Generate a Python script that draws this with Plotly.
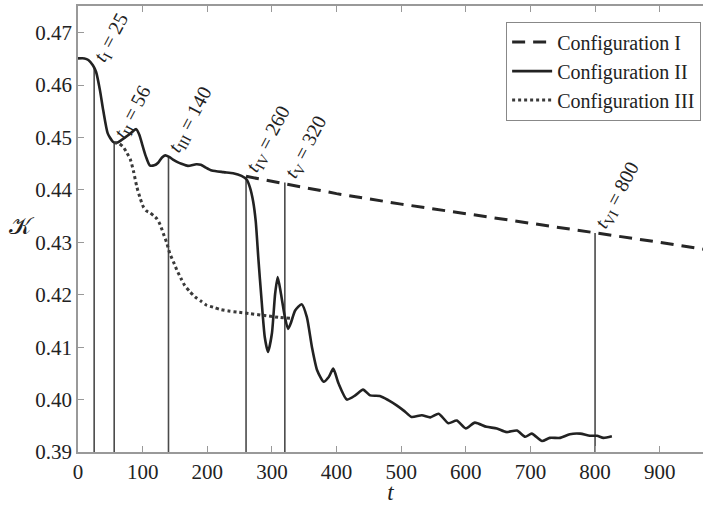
import plotly.graph_objects as go

# ---- data ----
t_conf2 = [0, 10, 16, 23, 28, 34, 39, 46, 54, 60, 67, 77, 84, 90, 95, 100, 105, 111, 118, 124,
           130, 135, 141, 147, 154, 160, 170, 183, 190, 197, 207, 225, 240, 253, 261, 266, 271,
           275, 279, 284, 289, 294, 300, 305, 309, 314, 320, 325, 329, 336, 346, 354, 362, 370,
           380, 388, 395, 403, 416, 429, 441, 452, 467, 480, 493, 505, 516, 532, 545, 558, 573,
           586, 600, 614, 632, 648, 663, 679, 692, 702, 718, 730, 746, 761, 777, 792, 803, 813, 826]
k_conf2 = [0.4651, 0.4651, 0.4648, 0.4638, 0.4625, 0.4590, 0.4552, 0.4508, 0.4492, 0.4490,
           0.4495, 0.4504, 0.4511, 0.4516, 0.4505, 0.4484, 0.4464, 0.4447, 0.4447, 0.4452,
           0.4462, 0.4466, 0.4463, 0.4458, 0.4453, 0.4450, 0.4446, 0.4449, 0.4448, 0.4443,
           0.4437, 0.4434, 0.4432, 0.4427, 0.4420, 0.4405, 0.4378, 0.4340, 0.4270, 0.4190,
           0.4119, 0.4091, 0.4126, 0.4202, 0.4234, 0.4202, 0.4158, 0.4135, 0.4145, 0.4170,
           0.4182, 0.4158, 0.4100, 0.4056, 0.4034, 0.4043, 0.4059, 0.4031, 0.4000, 0.4008,
           0.4019, 0.4008, 0.4007, 0.3999, 0.3989, 0.3978, 0.3967, 0.3970, 0.3966, 0.3973,
           0.3955, 0.3960, 0.3945, 0.3956, 0.3948, 0.3945, 0.3938, 0.3941, 0.3929, 0.3935,
           0.3921, 0.3927, 0.3927, 0.3934, 0.3935, 0.3931, 0.3931, 0.3927, 0.3930]

t_conf1 = [260, 320, 400, 500, 600, 700, 800, 900, 967]
k_conf1 = [0.4426, 0.4412, 0.4393, 0.4373, 0.4355, 0.4337, 0.4319, 0.4300, 0.4287]

t_conf3 = [56, 63, 70, 76, 81, 86, 91, 96, 101, 106, 111, 117, 122, 127, 132, 137, 142, 148,
           153, 159, 165, 173, 181, 190, 199, 210, 220, 233, 246, 266, 292, 310, 328]
k_conf3 = [0.4490, 0.4489, 0.4482, 0.4470, 0.4458, 0.4435, 0.4406, 0.4385, 0.4368, 0.4360,
           0.4357, 0.4351, 0.4345, 0.4334, 0.4317, 0.4300, 0.4279, 0.4262, 0.4247, 0.4232,
           0.4218, 0.4206, 0.4196, 0.4188, 0.4180, 0.4176, 0.4172, 0.4169, 0.4167, 0.4164,
           0.4160, 0.4157, 0.4155]

mark_t = [25, 56, 140, 260, 320, 800]
mark_k = [0.4636, 0.4490, 0.4464, 0.4425, 0.4414, 0.4318]
mark_sub = ["I", "II", "III", "IV", "V", "VI"]

x_ticks = [0, 100, 200, 300, 400, 500, 600, 700, 800, 900]
y_ticks = [0.39, 0.40, 0.41, 0.42, 0.43, 0.44, 0.45, 0.46, 0.47]
k_floor = 0.39

FONT = "Liberation Serif"

fig = go.Figure()

# vertical marker lines
for tm, km in zip(mark_t, mark_k):
    fig.add_trace(go.Scatter(x=[tm, tm], y=[k_floor, km], mode="lines",
                             line=dict(color="#4a4a4a", width=1.6),
                             showlegend=False, hoverinfo="skip"))

fig.add_trace(go.Scatter(x=t_conf1, y=k_conf1, mode="lines", name="Configuration I",
                         line=dict(color="#262626", width=3, dash="13px,8px")))
fig.add_trace(go.Scatter(x=t_conf2, y=k_conf2, mode="lines", name="Configuration II",
                         line=dict(color="#222222", width=2.6, shape="spline", smoothing=0.6)))
fig.add_trace(go.Scatter(x=t_conf3, y=k_conf3, mode="lines", name="Configuration III",
                         line=dict(color="#3a3a3a", width=3, dash="dot", shape="spline",
                                   smoothing=0.6)))

for tm, km, sub in zip(mark_t, mark_k, mark_sub):
    fig.add_annotation(x=tm, y=km, xref="x", yref="y",
                       text=f"<i>t</i><sub>{sub}</sub> = {tm}",
                       textangle=-62, showarrow=False, xanchor="left", yanchor="bottom",
                       xshift=-8, yshift=-3,
                       font=dict(family=FONT, size=20, color="#222"))

fig.add_annotation(x=-0.09, y=0.43, xref="paper", yref="y", text="𝒦", showarrow=False,
                   xanchor="center", yanchor="middle", yshift=16,
                   font=dict(family="DejaVu Serif", size=24, color="#222"))

axis_common = dict(showgrid=False, zeroline=False, showline=True, linecolor="#999",
                   linewidth=1.5, ticks="inside", ticklen=6, tickcolor="#999", tickwidth=1.2,
                   tickfont=dict(family=FONT, size=21, color="#222"), automargin=False)

fig.update_xaxes(range=[0, 967], tickvals=x_ticks, mirror="ticks",
                 title=dict(text="<i>t</i>", font=dict(family=FONT, size=23, color="#222"),
                            standoff=6),
                 **axis_common)
fig.update_yaxes(range=[0.39, 0.4751], tickvals=y_ticks, tickformat=".2f", mirror=False,
                 **axis_common)

fig.update_layout(
    width=705, height=505,
    margin=dict(l=78, r=2, t=6, b=53),
    paper_bgcolor="white", plot_bgcolor="white",
    showlegend=True,
    legend=dict(x=0.997, y=0.965, xanchor="right", yanchor="top",
                bgcolor="white", bordercolor="#888", borderwidth=1,
                font=dict(family=FONT, size=20, color="#222"),
                tracegroupgap=0, itemwidth=40),
)

fig.write_html("out.html")
